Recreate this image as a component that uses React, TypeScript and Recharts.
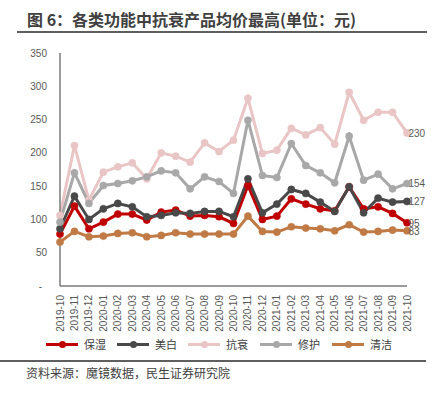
import React from 'react';
import { LineChart, Line, XAxis, YAxis, LabelList } from 'recharts';

const months = [
  '2019-10', '2019-11', '2019-12', '2020-01', '2020-02', '2020-03', '2020-04', '2020-05', '2020-06',
  '2020-07', '2020-08', '2020-09', '2020-10', '2020-11', '2020-12', '2021-01', '2021-02', '2021-03',
  '2021-04', '2021-05', '2021-06', '2021-07', '2021-08', '2021-09', '2021-10',
];
const moisturizing = [78, 120, 86, 96, 108, 108, 99, 111, 114, 105, 106, 104, 94, 151, 100, 105, 131, 123, 116, 113, 149, 116, 119, 109, 95];
const whitening = [86, 135, 100, 116, 124, 119, 104, 106, 110, 109, 112, 112, 104, 161, 110, 123, 145, 139, 126, 112, 149, 110, 132, 126, 127];
const antiAging = [106, 211, 129, 171, 179, 185, 161, 200, 195, 186, 215, 202, 219, 282, 199, 204, 237, 227, 238, 213, 291, 249, 261, 261, 230];
const repair = [96, 170, 124, 151, 154, 158, 164, 173, 170, 146, 164, 157, 139, 249, 166, 163, 214, 181, 170, 155, 225, 159, 168, 146, 154];
const cleansing = [66, 82, 74, 75, 79, 80, 74, 76, 80, 78, 78, 78, 78, 105, 82, 81, 89, 87, 86, 83, 92, 81, 82, 84, 83];
const yTicks = [0, 50, 100, 150, 200, 250, 300, 350];

const seriesDefs = [
  { key: 'moisturizing', name: '保湿', color: '#C00000', values: moisturizing },
  { key: 'whitening', name: '美白', color: '#494949', values: whitening },
  { key: 'antiAging', name: '抗衰', color: '#E9C5C5', values: antiAging },
  { key: 'repair', name: '修护', color: '#A8A8A8', values: repair },
  { key: 'cleansing', name: '清洁', color: '#C07A45', values: cleansing },
];

const data = months.map((m, i) => {
  const row: Record<string, any> = { month: m };
  seriesDefs.forEach((s) => { row[s.key] = s.values[i]; });
  return row;
});

const NUM_FONT = '"Liberation Sans", Arial, sans-serif';
const CJK_FONT = '"Noto Sans CJK SC", "Liberation Sans", sans-serif';

const YTick = (props: any) => {
  const { x, y, payload } = props;
  const isZero = payload.value === 0;
  return (
    <text x={isZero ? x - 5 : x} y={y} textAnchor="end" dominantBaseline="central" fontSize={10} fill="#595959" fontFamily={NUM_FONT}>
      {isZero ? '-' : payload.value}
    </text>
  );
};

const XTick = (props: any) => {
  const { x, y, payload } = props;
  return (
    <text x={x} y={y} transform={`rotate(-90 ${x} ${y})`} textAnchor="end" dominantBaseline="central" fontSize={10} fill="#595959" fontFamily={NUM_FONT}>
      {payload.value}
    </text>
  );
};

const endLabel = (props: any) => {
  const { x, y, index, value } = props;
  if (index !== months.length - 1) return null;
  return (
    <text x={x + 1.5} y={y + 0.5} dominantBaseline="central" fontSize={10} fill="#595959" fontFamily={NUM_FONT}>
      {value}
    </text>
  );
};

const legendX = [46, 117, 188, 260, 332];

export default function App() {
  return (
    <div style={{ position: 'absolute', left: 0, top: 0, width: 436, height: 397, background: '#fff', overflow: 'hidden' }}>
      <div style={{ position: 'absolute', left: 27, top: 8, fontSize: 16, fontWeight: 'bold', color: '#404040', fontFamily: CJK_FONT, lineHeight: '22px', whiteSpace: 'nowrap' }}>
        图 6：各类功能中抗衰产品均价最高(单位：元)
      </div>
      <div style={{ position: 'absolute', left: 17, top: 31, width: 410, height: 2, background: '#5f5f5f' }} />
      <div style={{ position: 'absolute', left: 0, top: 0 }}>
        <LineChart width={436} height={340} data={data} margin={{ top: 53, right: 29, left: 0, bottom: 0 }}>
          <XAxis
            dataKey="month"
            interval={0}
            tickLine={false}
            tickSize={6}
            tickMargin={3}
            height={54}
            axisLine={{ stroke: '#7a7a7a', strokeWidth: 1.5 }}
            tick={<XTick />}
          />
          <YAxis
            domain={[0, 350]}
            ticks={yTicks}
            interval={0}
            width={60}
            tickLine={false}
            tickSize={6}
            tickMargin={7}
            axisLine={{ stroke: '#7a7a7a', strokeWidth: 1.5 }}
            tick={<YTick />}
          />
          {seriesDefs.map((s) => (
            <Line
              key={s.key}
              dataKey={s.key}
              name={s.name}
              stroke={s.color}
              strokeWidth={3}
              dot={{ r: 3.6, fill: s.color, stroke: s.color, strokeWidth: 0.5 }}
              isAnimationActive={false}
            >
              <LabelList dataKey={s.key} content={endLabel} />
            </Line>
          ))}
        </LineChart>
      </div>
      {seriesDefs.map((s, i) => (
        <div key={s.key} style={{ position: 'absolute', left: legendX[i], top: 336, height: 16, width: 70 }}>
          <div style={{ position: 'absolute', left: 0, top: 6.5, width: 32, height: 3, background: s.color }} />
          <div style={{ position: 'absolute', left: 12.5, top: 4.5, width: 7, height: 7, borderRadius: '50%', background: s.color }} />
          <div style={{ position: 'absolute', left: 38, top: 0, fontSize: 11, lineHeight: '16px', color: '#404040', fontFamily: CJK_FONT, whiteSpace: 'nowrap' }}>{s.name}</div>
        </div>
      ))}
      <div style={{ position: 'absolute', left: 0, top: 360, width: 426, height: 2, background: '#5f5f5f' }} />
      <div style={{ position: 'absolute', left: 26, top: 364, fontSize: 12, lineHeight: '18px', color: '#404040', fontFamily: CJK_FONT, whiteSpace: 'nowrap' }}>
        资料来源：魔镜数据，民生证券研究院
      </div>
    </div>
  );
}
